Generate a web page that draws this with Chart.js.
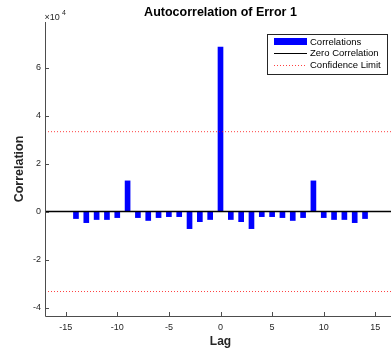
<!DOCTYPE html>
<html>
<head>
<meta charset="utf-8">
<script src="https://cdn.jsdelivr.net/npm/chart.js@4"></script>
<style>
html,body{margin:0;padding:0;background:#fff;overflow:hidden;width:391px;height:351px;}
#wrap{width:400px;height:351px;}
</style>
</head>
<body>
<div id="wrap"><canvas id="c" width="400" height="351"></canvas></div>
<script>
// ---- data ----
const lags = [-14,-13,-12,-11,-10,-9,-8,-7,-6,-5,-4,-3,-2,-1,0,1,2,3,4,5,6,7,8,9,10,11,12,13,14];
const correlations = [-2900,-4600,-3300,-3300,-2500,12800,-2500,-3700,-2500,-2100,-2100,-7100,-4200,-3300,
                      68600,
                      -3300,-4200,-7100,-2100,-2100,-2500,-3700,-2500,12800,-2500,-3300,-3300,-4600,-2900];
const confidenceLimit = 33300;
const xRange = [-17, 17];
const yRange = [-43500, 79000];
const xTickValues = [-15,-10,-5,0,5,10,15];
const yTickValues = [-40000,-20000,0,20000,40000,60000];
const titleText = 'Autocorrelation of Error 1';
const xLabel = 'Lag';
const yLabel = 'Correlation';
const legendLabels = ['Correlations','Zero Correlation','Confidence Limit'];

const AX = '#4d4d4d';
const TXT = '#262626';
const FONT = '"Liberation Sans", Arial, Helvetica, sans-serif';

const decor = {
  id: 'decor',
  afterDraw(chart) {
    const ctx = chart.ctx;
    const a = chart.chartArea;
    const xs = chart.scales.x, ys = chart.scales.y;
    ctx.save();
    // axes
    ctx.strokeStyle = AX; ctx.lineWidth = 1;
    ctx.beginPath();
    ctx.moveTo(a.left + 0.5, a.top); ctx.lineTo(a.left + 0.5, a.bottom + 0.5);
    ctx.lineTo(a.right, a.bottom + 0.5);
    ctx.stroke();
    // inward ticks
    ctx.beginPath();
    yTickValues.forEach(v => {
      const y = Math.round(ys.getPixelForValue(v)) + 0.5;
      ctx.moveTo(a.left, y); ctx.lineTo(a.left + 4, y);
    });
    xTickValues.forEach(v => {
      const x = Math.round(xs.getPixelForValue(v)) + 0.5;
      ctx.moveTo(x, a.bottom); ctx.lineTo(x, a.bottom - 4);
    });
    ctx.stroke();
    // title
    ctx.fillStyle = '#000';
    ctx.textAlign = 'center'; ctx.textBaseline = 'middle';
    ctx.font = 'bold 12.5px ' + FONT;
    ctx.fillText(titleText, (a.left + a.right) / 2, 13);
    // x label
    ctx.fillStyle = TXT;
    ctx.font = 'bold 12px ' + FONT;
    ctx.fillText(xLabel, (a.left + a.right) / 2, 342);
    // y label
    ctx.save();
    ctx.font = 'bold 12.5px ' + FONT;
    ctx.translate(20, (a.top + a.bottom) / 2);
    ctx.rotate(-Math.PI / 2);
    ctx.fillText(yLabel, 0, 0);
    ctx.restore();
    // exponent
    ctx.font = '9px ' + FONT;
    ctx.fillStyle = TXT;
    ctx.textAlign = 'left';
    ctx.fillText('\u00d710', a.left - 0.5, 18);
    ctx.font = '7px ' + FONT;
    ctx.fillText('4', a.left + 17, 13);
    // legend
    const lx = 267.5, ly = 34.5, lw = 120, lh = 40;
    ctx.fillStyle = '#fff';
    ctx.fillRect(lx, ly, lw, lh);
    ctx.strokeStyle = '#262626'; ctx.lineWidth = 1;
    ctx.strokeRect(lx, ly, lw, lh);
    const rows = [42, 53.5, 65];
    ctx.fillStyle = '#0000ff';
    ctx.fillRect(274, 38, 33, 7);
    ctx.strokeStyle = '#000';
    ctx.beginPath(); ctx.moveTo(274, 53.5); ctx.lineTo(307, 53.5); ctx.stroke();
    ctx.strokeStyle = 'rgba(255,0,0,0.75)';
    ctx.setLineDash([1, 2]);
    ctx.beginPath(); ctx.moveTo(274, 65.5); ctx.lineTo(307, 65.5); ctx.stroke();
    ctx.setLineDash([]);
    ctx.fillStyle = '#000';
    ctx.font = '9.5px ' + FONT;
    ctx.textAlign = 'left'; ctx.textBaseline = 'middle';
    legendLabels.forEach((t, i) => ctx.fillText(t, 310, rows[i]));
    ctx.restore();
  }
};

new Chart(document.getElementById('c'), {
  type: 'bar',
  data: {
    datasets: [
      {
        type: 'line', label: legendLabels[1],
        data: xRange.map(x => ({x: x, y: 0})),
        borderColor: '#000', borderWidth: 1.5, pointRadius: 0, order: 0
      },
      {
        type: 'line', label: legendLabels[2],
        data: xRange.map(x => ({x: x, y: confidenceLimit})),
        borderColor: 'rgba(255,0,0,0.75)', borderWidth: 1, borderDash: [1, 2], pointRadius: 0, order: 1
      },
      {
        type: 'line', label: legendLabels[2],
        data: xRange.map(x => ({x: x, y: -confidenceLimit})),
        borderColor: 'rgba(255,0,0,0.75)', borderWidth: 1, borderDash: [1, 2], pointRadius: 0, order: 1
      },
      {
        type: 'bar', label: legendLabels[0],
        data: lags.map((l, i) => ({x: l, y: correlations[i]})),
        backgroundColor: '#0000ff', borderWidth: 0, barThickness: 5, order: 2
      }
    ]
  },
  options: {
    responsive: false,
    animation: false,
    devicePixelRatio: 1,
    layout: {padding: {left: 0, top: 22, right: 4, bottom: 0}},
    plugins: {legend: {display: false}, title: {display: false}, tooltip: {enabled: false}},
    scales: {
      x: {
        type: 'linear', min: xRange[0], max: xRange[1], offset: false,
        grid: {display: false, drawTicks: false}, border: {display: false},
        afterFit: s => { s.height = 35; },
        afterBuildTicks: s => { s.ticks = xTickValues.map(v => ({value: v})); },
        ticks: {padding: 6, color: TXT, font: {family: FONT, size: 9}, maxRotation: 0, autoSkip: false,
                callback: v => String(v)}
      },
      y: {
        type: 'linear', min: yRange[0], max: yRange[1],
        grid: {display: false, drawTicks: false}, border: {display: false},
        afterFit: s => { s.width = 45; },
        afterBuildTicks: s => { s.ticks = yTickValues.map(v => ({value: v})); },
        ticks: {padding: 4, color: TXT, font: {family: FONT, size: 9}, autoSkip: false,
                callback: v => String(v / 10000)}
      }
    }
  },
  plugins: [decor]
});
</script>
</body>
</html>
